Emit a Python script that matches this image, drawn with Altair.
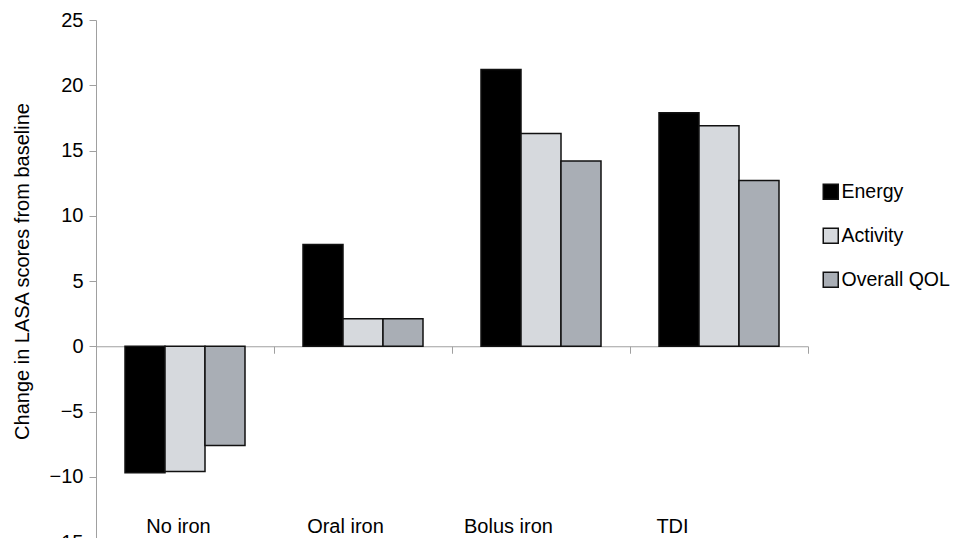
import altair as alt
import pandas as pd

groups = ["No iron", "Oral iron", "Bolus iron", "TDI"]
measures = ["Energy", "Activity", "Overall QOL"]
energy = [-9.7, 7.8, 21.2, 17.9]
activity = [-9.6, 2.1, 16.3, 16.9]
qol = [-7.6, 2.1, 14.2, 12.7]
y_ticks = [-15, -10, -5, 0, 5, 10, 15, 20, 25]
colors = ["#000000", "#d6d9dd", "#a9aeb5"]

rows = []
for i, g in enumerate(groups):
    for m, vals in zip(measures, [energy, activity, qol]):
        rows.append({"Group": g, "Measure": m, "Value": vals[i]})
df = pd.DataFrame(rows)

FONT = "Liberation Sans"
AXIS_GRAY = "#a0a0a0"

label_offsets = {
    "condition": [
        {"test": "datum.value === 'No iron'", "value": -7},
        {"test": "datum.value === 'Oral iron'", "value": -18},
        {"test": "datum.value === 'Bolus iron'", "value": -33},
    ],
    "value": -47,
}

chart = (
    alt.Chart(df)
    .mark_bar(stroke="#111111", strokeWidth=1.5)
    .encode(
        x=alt.X(
            "Group:N",
            sort=groups,
            scale=alt.Scale(paddingInner=0, paddingOuter=0),
            axis=alt.Axis(
                title=None,
                labelAngle=0,
                labelFontSize=20,
                labelFont=FONT,
                labelColor="#000000",
                labelOffset=label_offsets,
                labelPadding=163,
                domainColor=AXIS_GRAY,
                domainWidth=1,
                tickColor=AXIS_GRAY,
                tickSize=7,
                tickBand="extent",
                offset=-195.75,
                grid=False,
            ),
        ),
        xOffset=alt.XOffset(
            "Measure:N",
            sort=measures,
            scale=alt.Scale(paddingInner=0, paddingOuter=0.725),
        ),
        y=alt.Y(
            "Value:Q",
            scale=alt.Scale(domain=[-15, 25], nice=False, zero=False),
            axis=alt.Axis(
                title="Change in LASA scores from baseline",
                titleFontSize=20,
                titleFont=FONT,
                titleFontWeight="normal",
                titleColor="#000000",
                titlePadding=17,
                titleY=251,
                values=y_ticks,
                labelFontSize=20,
                labelFont=FONT,
                labelColor="#000000",
                labelPadding=6,
                domainColor=AXIS_GRAY,
                tickColor=AXIS_GRAY,
                tickSize=7,
                grid=False,
            ),
        ),
        fill=alt.Fill(
            "Measure:N",
            sort=measures,
            scale=alt.Scale(domain=measures, range=colors),
            legend=alt.Legend(
                title=None,
                orient="none",
                legendX=725,
                legendY=162,
                symbolType="square",
                symbolSize=225,
                symbolStrokeColor="#111111",
                symbolStrokeWidth=1.5,
                labelFontSize=19.5,
                labelFont=FONT,
                labelColor="#000000",
                labelOffset=1,
                labelLimit=200,
                rowPadding=22,
                padding=0,
            ),
        ),
    )
    .properties(
        width=712,
        height=522,
        autosize=alt.AutoSizeParams(type="none"),
        padding={"left": 88, "top": 12, "right": 145, "bottom": -4},
    )
    .configure_view(stroke=None)
)

chart.save("out.html", embed_options={"renderer": "svg", "actions": False})
